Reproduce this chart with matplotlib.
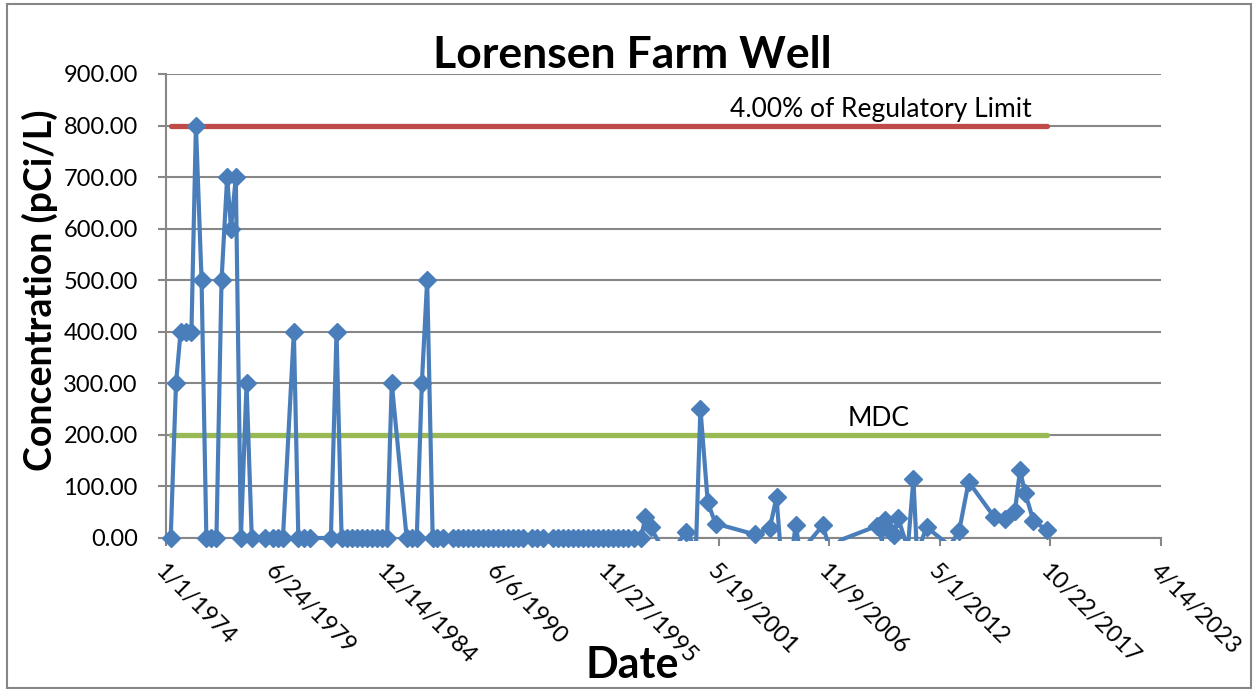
import matplotlib
matplotlib.use("Agg")
import matplotlib.pyplot as plt
import matplotlib.dates as mdates
from matplotlib.patches import Rectangle
from matplotlib.ticker import FixedLocator, FuncFormatter
import pandas as pd

plt.rcParams['font.family'] = ['Lato', 'DejaVu Sans']

title = "Lorensen Farm Well"
x_label = "Date"
y_label = "Concentration (pCi/L)"
limit_label = "4.00% of Regulatory Limit"
mdc_label = "MDC"
limit_value = 800.0
mdc_value = 200.0

sample_dates = [
    '1974-04-05', '1974-07-10', '1974-10-01', '1975-01-05', '1975-04-15',
    '1975-07-05', '1975-10-15', '1976-01-10', '1976-04-01', '1976-07-10',
    '1976-10-10', '1977-01-20', '1977-03-30', '1977-06-25', '1977-09-25',
    '1978-01-05', '1978-04-10', '1978-12-05', '1979-04-25', '1979-07-25',
    '1979-10-25', '1980-05-10', '1980-07-30', '1980-11-10', '1981-02-25',
    '1982-03-10', '1982-06-20', '1982-09-20',
    '1982-12-20', '1983-03-20', '1983-06-20', '1983-09-20', '1983-12-20',
    '1984-03-20', '1984-06-20', '1984-09-20', '1984-12-20',
    '1985-03-15', '1985-12-10', '1986-03-10', '1986-06-10', '1986-09-10',
    '1986-12-15', '1987-03-25', '1987-06-20', '1987-09-20',
    '1988-03-20', '1988-06-20', '1988-09-20', '1988-12-20',
    '1989-03-20', '1989-06-20', '1989-09-20', '1989-12-20',
    '1990-03-20', '1990-06-20', '1990-09-20', '1990-12-20',
    '1991-03-20', '1991-06-20', '1991-09-20',
    '1992-03-01', '1992-06-01', '1992-09-15',
    '1993-03-01', '1993-06-01', '1993-09-01', '1993-12-01',
    '1994-03-01', '1994-06-01', '1994-09-01', '1994-12-01',
    '1995-03-01', '1995-06-01', '1995-09-01', '1995-12-01',
    '1996-03-01', '1996-06-01', '1996-09-01', '1996-12-01',
    '1997-03-20', '1997-07-20',
    '1997-10-01', '1998-01-05', '1998-06-25', '1999-01-25', '1999-10-01',
    '2000-04-05', '2000-06-25', '2000-11-05', '2001-03-25', '2003-03-05',
    '2003-12-01', '2004-04-01', '2004-07-10', '2004-11-28', '2005-03-15',
    '2005-06-15', '2005-10-20', '2006-07-20', '2006-11-20', '2007-06-25',
    '2009-03-15', '2009-06-20', '2009-08-15', '2009-12-10', '2010-01-20',
    '2010-04-10', '2010-10-01', '2011-01-10', '2011-03-15', '2011-09-05',
    '2012-10-30', '2013-04-15', '2013-10-05', '2015-01-15', '2015-07-20',
    '2016-01-20', '2016-04-20', '2016-07-25', '2016-12-20', '2017-08-25',
]

concentration = [
    0, 300, 400, 400, 400,
    800, 500, 0, 0, 0,
    500, 700, 600, 700, 0,
    300, 0, 0, 0, 0,
    0, 400, 0, 0, 0,
    0, 400, 0,
    0, 0, 0, 0, 0,
    0, 0, 0, 0,
    300, 0, 0, 0, 300,
    500, 0, 0, 0,
    0, 0, 0, 0,
    0, 0, 0, 0,
    0, 0, 0, 0,
    0, 0, 0,
    0, 0, 0,
    0, 0, 0, 0,
    0, 0, 0, 0,
    0, 0, 0, 0,
    0, 0, 0, 0,
    0, 0,
    40, 21, -12, -29, 12,
    -20, 251, 69, 28, 7,
    19, 79, -60, -60, 26,
    -40, -10, 25, -24, -3,
    23, -5, 35, 12, 6,
    38, -20, 115, -30, 21,
    -15, 13, 109, 40, 36,
    52, 131, 87, 33, 15,
]

tick_dates = ['1974-01-01', '1979-06-24', '1984-12-14', '1990-06-06', '1995-11-27',
              '2001-05-19', '2006-11-09', '2012-05-01', '2017-10-22', '2023-04-14']
y_ticks = [0, 100, 200, 300, 400, 500, 600, 700, 800, 900]

blue = '#4A7EBB'
red = '#BE4B48'
green = '#98B954'
grid_gray = '#878787'

x = mdates.date2num(pd.to_datetime(sample_dates))
tick_x = mdates.date2num(pd.to_datetime(tick_dates))

fig = plt.figure(figsize=(12.54, 6.89), dpi=100)
ax = fig.add_axes([165.5 / 1254, 1 - 538 / 689, (1161 - 165.5) / 1254, (538 - 74) / 689])

# outer chart border
fig.patches.append(Rectangle((7 / 1254, 1 / 689), 1244 / 1254, 684 / 689,
                             transform=fig.transFigure, fill=False,
                             edgecolor='#868686', linewidth=1.5))

ax.set_xlim(tick_x[0], tick_x[-1])
ax.set_ylim(0, 900)

ax.yaxis.set_major_locator(FixedLocator(y_ticks))
ax.yaxis.set_major_formatter(FuncFormatter(lambda v, p: f"{v:.2f}"))
ax.xaxis.set_major_locator(FixedLocator(tick_x))
ax.set_xticklabels([f"{d.month}/{d.day}/{d.year}" for d in pd.to_datetime(tick_dates)])

ax.grid(axis='y', color=grid_gray, linewidth=1.5)
ax.set_axisbelow(True)
for s in ['top', 'right']:
    ax.spines[s].set_visible(False)
for s in ['left', 'bottom']:
    ax.spines[s].set_color(grid_gray)
    ax.spines[s].set_linewidth(1.5)

ax.tick_params(axis='y', direction='out', length=6, width=1.5, color=grid_gray,
               labelsize=17, pad=14)
ax.tick_params(axis='x', direction='out', length=6, width=1.5, color=grid_gray,
               labelsize=17, pad=10)
for lbl in ax.get_xticklabels():
    lbl.set_rotation(-45)
    lbl.set_ha('left')
    lbl.set_va('top')
    lbl.set_rotation_mode('anchor')

# reference lines
ax.plot([x[0], x[-1]], [limit_value, limit_value], color=red, linewidth=3.8,
        solid_capstyle='round', zorder=3)
ax.plot([x[0], x[-1]], [mdc_value, mdc_value], color=green, linewidth=3.8,
        solid_capstyle='round', zorder=3)

# data line (negatives fall below the axis and are hidden)
line, = ax.plot(x, concentration, color=blue, linewidth=3, zorder=4,
                solid_joinstyle='round')
line.set_clip_path(Rectangle((0, -0.006), 1, 1.05, transform=ax.transAxes))

pos_x = [xi for xi, v in zip(x, concentration) if v >= 0]
pos_v = [v for v in concentration if v >= 0]
ax.plot(pos_x, pos_v, linestyle='none', marker='D', markersize=9.5,
        color=blue, zorder=5, clip_on=False)

ax.text(mdates.date2num(pd.Timestamp('2001-12-10')), 817, limit_label,
        fontsize=19, ha='left', va='baseline', color='black')
ax.text(mdates.date2num(pd.Timestamp('2007-10-10')), 217, mdc_label,
        fontsize=19, ha='left', va='baseline', color='black')

fig.text(632 / 1254, 1 - 55 / 689, title, fontsize=32, fontweight='bold',
         ha='center', va='center')
fig.text(632 / 1254, 1 - 665 / 689, x_label, fontsize=31, fontweight='bold',
         ha='center', va='center')
fig.text(40 / 1254, 1 - 290 / 689, y_label, fontsize=27, fontweight='bold',
         ha='center', va='center', rotation=90)

fig.savefig('out.png', dpi=100)
